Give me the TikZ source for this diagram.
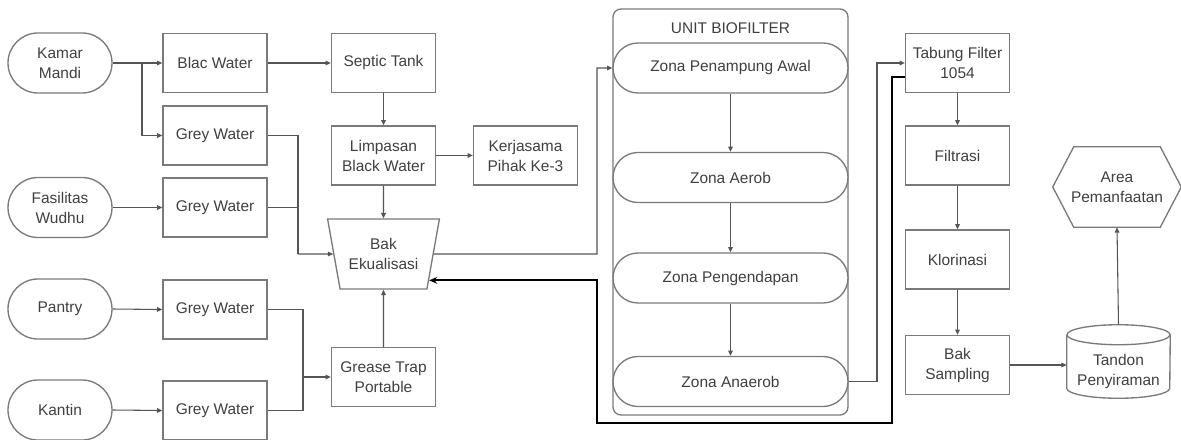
\documentclass[tikz,border=0pt]{standalone}
\usepackage{fontspec}
\setmainfont{Liberation Sans}
\usetikzlibrary{arrows.meta,shapes.geometric,calc}
\definecolor{txtc}{HTML}{404040}
\definecolor{bord}{HTML}{7A7A7A}
\definecolor{connc}{HTML}{555555}
\begin{document}
\begin{tikzpicture}[x=0.75pt,y=-0.75pt,
  lbl/.style={text=txtc, align=center, inner sep=1pt, font=\fontsize{11.6pt}{15pt}\selectfont},
  base/.style={lbl, draw=bord, line width=1pt, fill=white},
  stad/.style={base, rounded corners=22.5pt, minimum width=78pt, minimum height=45pt},
  box/.style={base, minimum width=78pt, minimum height=44.25pt},
  zone/.style={base, rounded corners=18.75pt, minimum width=176.25pt, minimum height=37.5pt},
  trap/.style={base, trapezium, shape border rotate=180, trapezium left angle=73, trapezium right angle=73, trapezium stretches=true, minimum width=84pt, minimum height=52.5pt},
  shapeline/.style={draw=bord, line width=1pt, fill=white},
  conn/.style={draw=connc, line width=0.8pt},
  arr/.style={conn, -{Triangle[length=4pt,width=3.5pt]}},
  fb/.style={draw=black, line width=1.6pt, -{Stealth[length=6pt,width=5pt]}}
]
\fill[white] (0,0) rectangle (1181,439);
\useasboundingbox (0,0) rectangle (1181,439);

% sources
\node[stad] (kamar) at (60,63) {Kamar\\Mandi};
\node[stad] (wudhu) at (60,207.5) {Fasilitas\\Wudhu};
\node[stad] (pantry) at (60,309) {Pantry};
\node[stad] (kantin) at (60,410) {Kantin};

\node[box] (blac) at (215,63) {Blac Water};
\node[box] (grey1) at (215,135.5) {Grey Water};
\node[box] (grey2) at (215,207.5) {Grey Water};
\node[box] (grey3) at (215,309.5) {Grey Water};
\node[box] (grey4) at (215,410.5) {Grey Water};

\node[box] (septic) at (383.5,63) {Septic Tank};
\node[box] (limp) at (383.5,155.5) {Limpasan\\Black Water};
\node[box] (kerja) at (525.5,155.5) {Kerjasama\\Pihak Ke-3};
\node[trap] (bak) at (383.5,254) {Bak\\Ekualisasi};
\node[box] (grease) at (383.5,377) {Grease Trap\\Portable};

% biofilter unit
\node[draw=bord, line width=1pt, rounded corners=6pt, minimum width=176.25pt, minimum height=304.5pt] (unit) at (730.5,212) {};
\node[lbl] (unittitle) at (730.5,28) {UNIT BIOFILTER};
\node[zone] (za) at (730.5,68) {Zona Penampung Awal};
\node[zone] (zb) at (730.5,177.5) {Zona Aerob};
\node[zone] (zc) at (730.5,278) {Zona Pengendapan};
\node[zone] (zd) at (730.5,381.5) {Zona Anaerob};

% right column
\node[box] (tabung) at (957.5,63) {Tabung Filter\\1054};
\node[box] (filtrasi) at (957.5,155.5) {Filtrasi};
\node[box] (klor) at (957.5,259.5) {Klorinasi};
\node[box] (samp) at (957.5,365) {Bak\\Sampling};

% tandon (cylinder)
\node[minimum width=77.25pt, minimum height=54.75pt, inner sep=0pt] (tandon) at (1118.5,361.5) {};
\draw[shapeline] ($(tandon.north west)+(0,10)$) -- ($(tandon.south west)+(0,-10)$)
  arc[start angle=180, end angle=360, x radius=38.625pt, y radius=7.5pt]
  -- ($(tandon.north east)+(0,10)$);
\draw[shapeline] ($(tandon.north)+(0,10)$) ellipse [x radius=38.625pt, y radius=7.5pt];
\node[lbl] (tandontext) at ($(tandon.center)+(0,9.5)$) {Tandon\\Penyiraman};

% area (hexagon)
\node[minimum width=96pt, minimum height=60pt, inner sep=0pt] (area) at (1117,187) {};
\draw[shapeline] (area.west) -- ($(area.north west)+(21,0)$) -- ($(area.north east)+(-21,0)$)
  -- (area.east) -- ($(area.south east)+(-21,0)$) -- ($(area.south west)+(21,0)$) -- cycle;
\node[lbl] (areatext) at (area.center) {Area\\Pemanfaatan};

% junction coordinates
\coordinate (br) at (142,63);
\coordinate (j1) at (298,254);
\coordinate (j2) at (303,377);
\coordinate (j3) at (597,254);
\coordinate (j4) at (877,381.5);
\coordinate (f1) at (892,77);
\coordinate (f2) at (892,423);
\coordinate (f3) at (597,423);

% connectors
\draw[arr] (kamar.east) -- (blac.west);
\draw[arr] (br) |- (grey1.west);
\draw[arr] (wudhu.east) -- (grey2.west);
\draw[arr] (pantry.east) -- (grey3.west);
\draw[arr] (kantin.east) -- (grey4.west);
\draw[arr] (blac.east) -- (septic.west);
\draw[arr] (septic.south) -- (limp.north);
\draw[arr] (limp.east) -- (kerja.west);
\draw[arr] (limp.south) -- (bak.north);
\draw[conn] (grey1.east) -| (j1);
\draw[conn] (grey2.east) -- (grey2.east -| j1);
\draw[arr] (j1) -- (bak.180);
\draw[conn] (grey3.east) -| (j2);
\draw[conn] (grey4.east) -| (j2);
\draw[arr] (j2) -- (grease.west);
\draw[arr] (grease.north) -- (bak.south);
\draw[arr] (bak.0) -- (j3) |- (za.west);
\draw[arr] (za.south) -- (zb.north);
\draw[arr] (zb.south) -- (zc.north);
\draw[arr] (zc.south) -- (zd.north);
\draw[arr] (zd.east) -- (j4) |- (tabung.west);
\draw[arr] (tabung.south) -- (filtrasi.north);
\draw[arr] (filtrasi.south) -- (klor.north);
\draw[arr] (klor.south) -- (samp.north);
\draw[arr] (samp.east) -- (samp.east -| tandon.west);
\draw[arr] (tandon.north) -- (area.south);
\draw[fb] (tabung.west |- f1) -- (f1) -- (f2) -- (f3) |- (bak.-30);
\end{tikzpicture}
\end{document}
